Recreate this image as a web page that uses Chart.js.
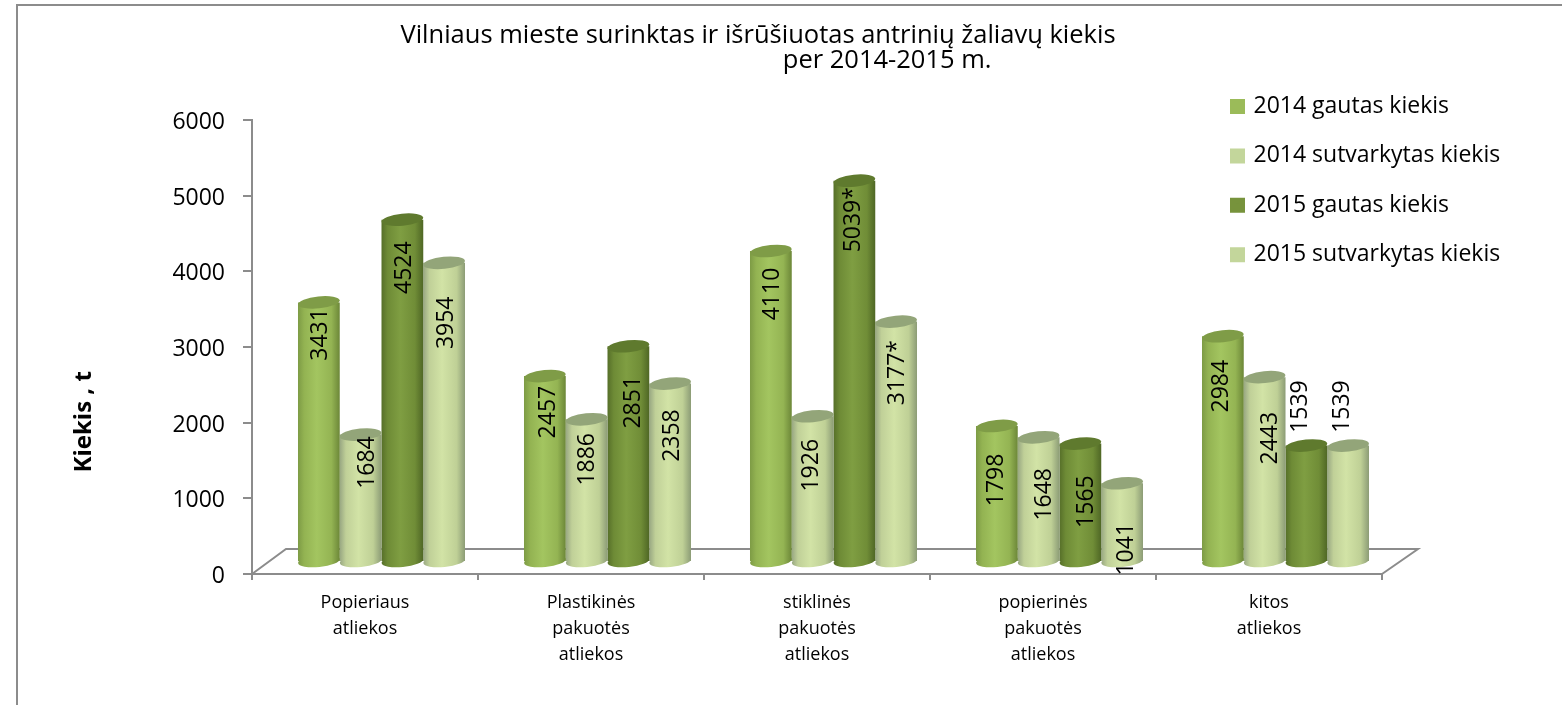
<!DOCTYPE html>
<html><head><meta charset="utf-8">
<style>html,body{margin:0;padding:0;background:#fff;overflow:hidden}canvas{position:absolute;left:0;top:0}</style>
<script src="https://cdn.jsdelivr.net/npm/chart.js@4"></script>
</head><body><canvas id="c" width="1562" height="705"></canvas>
<script>
const categories = [["Popieriaus","atliekos"],["Plastikinės","pakuotės","atliekos"],["stiklinės","pakuotės","atliekos"],["popierinės","pakuotės","atliekos"],["kitos","atliekos"]];
const seriesNames = ["2014 gautas kiekis","2014 sutvarkytas kiekis","2015 gautas kiekis","2015 sutvarkytas kiekis"];
const gautas2014 = [3431,2457,4110,1798,2984];
const sutvarkytas2014 = [1684,1886,1926,1648,2443];
const gautas2015 = [4524,2851,5039,1565,1539];
const sutvarkytas2015 = [3954,2358,3177,1041,1539];
const seriesValues = [gautas2014,sutvarkytas2014,gautas2015,sutvarkytas2015];
const labelSuffix = [["","","","",""],["","","","",""],["","","*","",""],["","","*","",""]];
// presentation only: label nudges (px from bar top centre), per series and category
const nudgeX = [[2,4,2,0,-1],[7,1,-1,6,6],[2,5,-1,6,-6],[2,2,1,4,-6]];
const nudgeY = [[32,36,43,54,50],[28,40,49,57,61],[48,56,39,58,-39],[60,52,51,66,-39]];
const FONT = 'Open Sans';
const legendColors = ["#9BBB59","#C3D69B","#77933C","#C3D69B"];
const capColors = ["#7F9C47","#93A579","#5F7A2E","#93A579"];
const sideStops = [
 ["#7D9B45","#93B352","#A3C560","#94B453","#6C8738"],
 ["#98A782","#C0D098","#D2E3A6","#BFD096","#8C9C76"],
 ["#566F29","#6E8B36","#7F9E42","#708D37","#4F6725"],
 ["#98A782","#C0D098","#D2E3A6","#BFD096","#8C9C76"]];
const AXIS = "#8C8C8C";
const CAT_PCT = 0.739, DEPTH_X = 16.5, LIFT = 12, TILT = -0.1, CAP_RY = 6;
const FLOOR_DX = 34, FLOOR_DY = 25;

function barBox(chart, ds, idx){
  const xs = chart.scales.x;
  const cat = xs.width / categories.length;
  const w = cat * CAT_PCT / seriesValues.length;
  const left = xs.getPixelForValue(idx) - cat * CAT_PCT / 2 + ds * w;
  return {left, w};
}
function sideGradient(chart, ds, idx){
  const b = barBox(chart, ds, idx);
  const g = chart.ctx.createLinearGradient(b.left,0,b.left+b.w,0);
  const s = sideStops[ds];
  [0,0.15,0.45,0.8,1].forEach((p,i)=>g.addColorStop(p,s[i]));
  return g;
}
const scenePlugin = {
  id:'scene',
  beforeDraw(chart){
    const c = chart.ctx;
    c.save(); c.strokeStyle = AXIS; c.lineWidth = 2;
    c.beginPath(); c.moveTo(1562,5); c.lineTo(17,5); c.lineTo(17,705); c.stroke(); c.restore();
  },
  afterLayout(chart){
    const l = chart.legend, p = l.options.labels.padding;
    l.left = 1233 - p; l.right = 1560; l.top = 68.6; l.bottom = 300;
    const t = chart.titleBlock; t.left = 400; t.right = 1116;
  },
  beforeDatasetsDraw(chart){
    const c = chart.ctx, a = chart.chartArea;
    c.save(); c.strokeStyle = AXIS; c.lineWidth = 2;
    c.beginPath();
    c.moveTo(a.left,a.bottom); c.lineTo(a.left+FLOOR_DX,a.bottom-FLOOR_DY);
    c.lineTo(a.right+FLOOR_DX+2,a.bottom-FLOOR_DY); c.lineTo(a.right,a.bottom);
    c.stroke(); c.restore();
    c.save(); c.translate(DEPTH_X,-LIFT);
  },
  afterDatasetsDraw(chart){
    const c = chart.ctx;
    seriesValues.forEach((vals,ds)=>{
      chart.getDatasetMeta(ds).data.forEach((el,i)=>{
        const rx = barBox(chart,ds,i).w/2;
        c.fillStyle = sideGradient(chart,ds,i);
        c.beginPath(); c.ellipse(el.x,el.base,rx,CAP_RY,TILT,0,Math.PI*2); c.fill();
        c.fillStyle = capColors[ds];
        c.beginPath(); c.ellipse(el.x,el.y,rx,CAP_RY,TILT,0,Math.PI*2); c.fill();
      });
    });
    c.restore();
    c.save();
    c.fillStyle = "#000"; c.font = '23px "'+FONT+'"'; c.textAlign='center'; c.textBaseline='middle';
    seriesValues.forEach((vals,ds)=>{
      chart.getDatasetMeta(ds).data.forEach((el,i)=>{
        c.save();
        c.translate(el.x+DEPTH_X+nudgeX[ds][i], el.y-LIFT+nudgeY[ds][i]);
        c.rotate(-Math.PI/2);
        c.fillText(vals[i]+labelSuffix[ds][i],0,0);
        c.restore();
      });
    });
    c.restore();
  }
};
new Chart(document.getElementById('c'),{
  type:'bar',
  data:{labels:categories,datasets:seriesValues.map((v,ds)=>({
    label:seriesNames[ds],data:v,clip:false,borderWidth:0,
    backgroundColor:ctx=>sideGradient(ctx.chart,ds,ctx.dataIndex),
    barPercentage:1,categoryPercentage:CAT_PCT
  }))},
  plugins:[scenePlugin],
  options:{
    responsive:false,animation:false,
    layout:{padding:{left:0,right:180,top:0,bottom:0}},
    plugins:{
      tooltip:{enabled:false},
      title:{display:true,
        text:["Vilniaus mieste surinktas ir išrūšiuotas antrinių žaliavų kiekis",
              "\u00A0".repeat(39)+"per 2014-2015 m."],
        font:{family:FONT,size:25.5,weight:'normal',lineHeight:0.98},color:'#000',
        padding:{top:23,bottom:47}},
      legend:{position:'chartArea',align:'start',
        labels:{font:{family:FONT,size:23},color:'#000',boxWidth:9,boxHeight:9,padding:26.4,
          generateLabels:()=>seriesNames.map((n,i)=>({text:n,fillStyle:legendColors[i],strokeStyle:legendColors[i],lineWidth:6,datasetIndex:i,fontColor:'#000'}))}}
    },
    scales:{
      x:{
        afterFit:s=>{s.height=705-574;},
        border:{color:AXIS,width:2},
        grid:{drawOnChartArea:false,drawTicks:true,tickLength:6,color:AXIS,lineWidth:2,offset:true},
        ticks:{color:'#000',font:{family:FONT,size:18,lineHeight:1.44},padding:10,maxRotation:0,autoSkip:false}
      },
      y:{
        min:0,max:6000,
        afterFit:s=>{s.width=252;},
        border:{color:AXIS,width:2},
        grid:{drawOnChartArea:false,drawTicks:true,tickLength:9,color:AXIS,lineWidth:2},
        ticks:{stepSize:1000,color:'#000',font:{family:FONT,size:23},padding:18,labelOffset:2.5,callback:v=>String(v)},
        title:{display:true,text:"Kiekis , t"+"\u00A0".repeat(24),color:'#000',
          font:{family:FONT,size:24,weight:'bold'},padding:{top:70,bottom:0}}
      }
    }
  }
});
</script></body></html>
